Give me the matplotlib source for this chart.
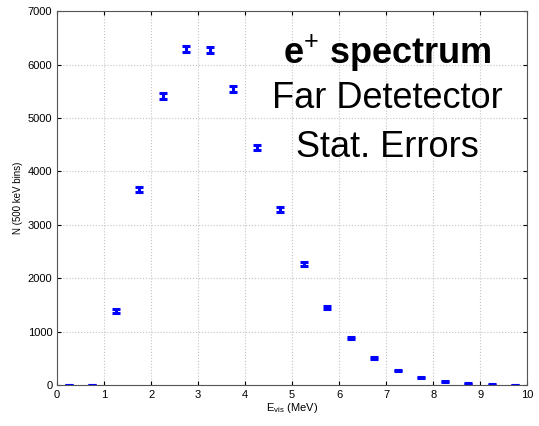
import numpy as np
import matplotlib
matplotlib.use('Agg')
import matplotlib.pyplot as plt

plt.rcParams['font.family'] = ['Liberation Sans', 'DejaVu Sans']
plt.rcParams['mathtext.fontset'] = 'custom'
plt.rcParams['mathtext.rm'] = 'Liberation Sans'
plt.rcParams['mathtext.it'] = 'Liberation Sans'
plt.rcParams['mathtext.bf'] = 'Liberation Sans:bold'

# bin centres (MeV) and counts per 500 keV bin
energy = [0.25, 0.75, 1.25, 1.75, 2.25, 2.75, 3.25, 3.75, 4.25, 4.75,
          5.25, 5.75, 6.25, 6.75, 7.25, 7.75, 8.25, 8.75, 9.25, 9.75]
counts = [0, 0, 1390, 3660, 5410, 6290, 6270, 5540, 4450, 3290,
          2260, 1450, 880, 505, 275, 144, 75, 32, 13, 5]
stat_err = [3, 3, 35, 45, 50, 53, 53, 50, 46, 44,
            38, 32, 25, 20, 15, 10, 8, 5, 3, 2]

fig = plt.figure(figsize=(5.39, 4.26), dpi=100)
ax = fig.add_axes([0.106, 0.096, 0.872, 0.878])

ax.errorbar(energy, counts, yerr=stat_err, fmt='none', ecolor='blue',
            elinewidth=2.2, capsize=3.2, capthick=2.2)

ax.set_xlim(0, 10)
ax.set_ylim(0, 7000)
ax.set_xticks(range(0, 11))
ax.set_yticks(range(0, 7001, 1000))
ax.grid(True, linestyle=':', color='#c4c4c4', linewidth=0.8)
ax.tick_params(direction='in', top=True, right=True, labelsize=8, length=3)
for s in ax.spines.values():
    s.set_color('#555555')
    s.set_linewidth(0.8)

ax.set_xlabel(r'E$_{\mathrm{vis}}$ (MeV)', fontsize=8, labelpad=1)
ax.set_ylabel('N (500 keV bins)', fontsize=7, labelpad=3)

ax.text(0.703, 0.888, r'$\mathbf{e}^{\mathrm{+}}$ spectrum', transform=ax.transAxes,
        ha='center', va='center', fontsize=26, fontweight='bold')
ax.text(0.703, 0.765, 'Far Detetector', transform=ax.transAxes,
        ha='center', va='center', fontsize=26)
ax.text(0.703, 0.636, 'Stat. Errors', transform=ax.transAxes,
        ha='center', va='center', fontsize=26)

fig.savefig('out.png', dpi=100)
